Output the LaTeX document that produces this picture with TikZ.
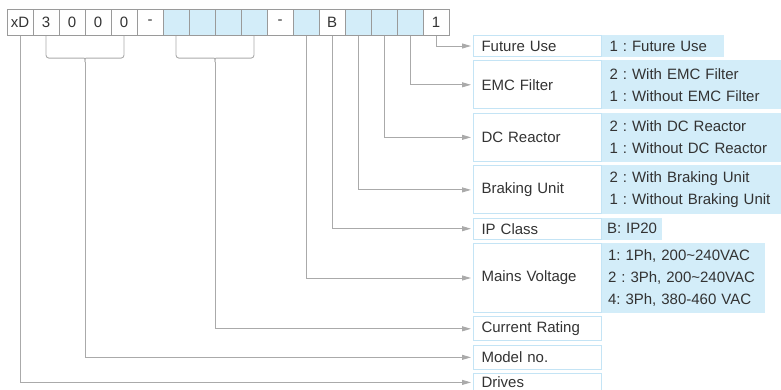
\documentclass[tikz,border=0pt]{standalone}
\usepackage{fontspec}
\setmainfont{Liberation Sans}
\usetikzlibrary{arrows.meta, positioning, calc}
\definecolor{codeBlue}{HTML}{D3EDF9}
\definecolor{codeEdge}{HTML}{C4E4F5}
\definecolor{codeGrey}{HTML}{9A9A9A}
\definecolor{linkGrey}{HTML}{AAAAAA}
\definecolor{codeText}{HTML}{333333}

\begin{document}
\begin{tikzpicture}[
    x=1pt, y=-1pt,
    node distance=3.3pt,
    cell/.style={rectangle, draw=codeGrey, line width=0.8pt, fill=white,
                 minimum width=26pt, minimum height=26.5pt, inner sep=0pt,
                 font=\fontsize{15}{18}\selectfont\color{codeText}},
    blank/.style={cell, fill=codeBlue},
    lab/.style={rectangle, draw=codeEdge, line width=1pt, fill=white,
                text width=112pt, inner xsep=8pt, inner ysep=2pt, align=left,
                font=\fontsize{15}{22}\selectfont\frenchspacing\color{codeText}},
    val/.style={rectangle, draw=codeBlue, line width=1pt, fill=codeBlue,
                inner xsep=7pt, inner ysep=2pt, align=left,
                font=\fontsize{15}{22}\selectfont\frenchspacing\color{codeText}},
    link/.style={draw=linkGrey, line width=0.9pt, shorten >=2pt,
                 -{Triangle[length=9pt, width=5pt]}},
    brace/.style={draw=linkGrey, line width=0.9pt, rounded corners=3pt},
  ]
    \useasboundingbox (0,0) rectangle (781,390);

    % model code cells
    \foreach \t/\s [count=\i] in {xD/cell, 3/cell, 0/cell, 0/cell, 0/cell, -/cell,
        /blank, /blank, /blank, /blank, -/cell, /blank, B/cell, /blank, /blank, /blank, 1/cell}{
      \node[\s] (c\i) at ({20+26*(\i-1)}, 22.5) {\t};
    }

    % field names
    \node[lab, minimum height=21pt, anchor=north west] (fut) at (473,35) {Future Use};
    \node[lab, minimum height=48pt, below=of fut] (emc) {EMC Filter};
    \node[lab, minimum height=48.5pt, below=of emc] (dcr) {DC Reactor};
    \node[lab, minimum height=48pt, below=of dcr] (brk) {Braking Unit};
    \node[lab, minimum height=21pt, below=of brk] (ipc) {IP Class};
    \node[lab, minimum height=69pt, below=of ipc] (mains) {Mains Voltage};
    \node[lab, minimum height=24pt, below=of mains] (cur) {Current Rating};
    \node[lab, minimum height=24.5pt, below=of cur] (model) {Model no.};
    \node[lab, minimum height=17pt, below=of model] (drv) {Drives};

    % field values
    \node[val, minimum height=21pt, text width=106.5pt, right=0pt of fut] (futv) {1 : Future Use};
    \node[val, minimum height=48pt, text width=166pt, right=0pt of emc] (emcv)
      {2 : With EMC Filter\\1 : Without EMC Filter};
    \node[val, minimum height=48.5pt, text width=166pt, right=0pt of dcr] (dcrv)
      {2 : With DC Reactor\\1 : Without DC Reactor};
    \node[val, minimum height=48pt, text width=166pt, right=0pt of brk] (brkv)
      {2 : With Braking Unit\\1 : Without Braking Unit};
    \node[val, minimum height=21pt, text width=50pt, inner xsep=4.5pt, right=0pt of ipc] (ipcv) {B:~IP20};
    \node[val, minimum height=69pt, text width=151pt, inner xsep=5.5pt, right=0pt of mains] (mainsv)
      {1: 1Ph, 200\textasciitilde240VAC\\2 : 3Ph, 200\textasciitilde240VAC\\4: 3Ph, 380-460 VAC};

    % braces under grouped cells
    \coordinate (b1) at ($(c2.south)!0.5!(c5.south)+(0,26)$);
    \coordinate (b2) at ($(c7.south)!0.5!(c10.south)+(0,26)$);
    \draw[brace] (c2.south) |- ($(b1)+(-4,-4)$) .. controls ($(b1)+(0,-4)$) .. (b1);
    \draw[brace] (c5.south) |- ($(b1)+(4,-4)$) .. controls ($(b1)+(0,-4)$) .. (b1);
    \draw[brace] (c7.south) |- ($(b2)+(-4,-4)$) .. controls ($(b2)+(0,-4)$) .. (b2);
    \draw[brace] (c10.south) |- ($(b2)+(4,-4)$) .. controls ($(b2)+(0,-4)$) .. (b2);

    % connectors
    \draw[link] (c17.south) |- (fut.west);
    \draw[link] (c16.south) |- (emc.west);
    \draw[link] (c15.south) |- (dcr.west);
    \draw[link] (c14.south) |- (brk.west);
    \draw[link] (c13.south) |- (ipc.west);
    \draw[link] (c12.south) |- (mains.west);
    \draw[link] (b2) |- (cur.west);
    \draw[link] (b1) |- (model.west);
    \draw[link] (c1.south) |- (drv.west);
  \end{tikzpicture}
\end{document}
